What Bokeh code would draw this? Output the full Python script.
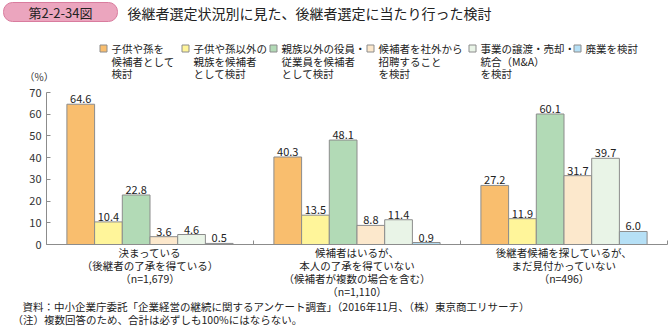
from bokeh.plotting import figure
from bokeh.layouts import column, row
from bokeh.models import ColumnDataSource, FixedTicker, Range1d, LinearAxis
from bokeh.transform import dodge
from bokeh.core.properties import value
from bokeh.embed import file_html
from bokeh.resources import INLINE

# ---------------- data ----------------
group_labels = [
    ["決まっている", "（後継者の了承を得ている）", "（n=1,679）"],
    ["候補者はいるが、", "本人の了承を得ていない", "（候補者が複数の場合を含む）", "（n=1,110）"],
    ["後継者候補を探しているが、", "まだ見付かっていない", "（n=496）"],
]
series_names = [
    ["子供や孫を", "候補者として", "検討"],
    ["子供や孫以外の", "親族を候補者", "として検討"],
    ["親族以外の役員・", "従業員を候補者", "として検討"],
    ["候補者を社外から", "招聘すること", "を検討"],
    ["事業の譲渡・売却・", "統合（M&A）", "を検討"],
    ["廃業を検討"],
]
child_grandchild = [64.6, 40.3, 27.2]
other_relatives = [10.4, 13.5, 11.9]
employees = [22.8, 48.1, 60.1]
outside_hire = [3.6, 8.8, 31.7]
mna = [4.6, 11.4, 39.7]
closure = [0.5, 0.9, 6.0]
y_ticks = [0, 10, 20, 30, 40, 50, 60, 70]
figure_no = "第2-2-34図"
title = "後継者選定状況別に見た、後継者選定に当たり行った検討"
unit = "（%）"
notes = [
    "資料：中小企業庁委託「企業経営の継続に関するアンケート調査」（2016年11月、（株）東京商工リサーチ）",
    "（注）複数回答のため、合計は必ずしも100%にはならない。",
]

series_values = [child_grandchild, other_relatives, employees, outside_hire, mna, closure]
colors = ["#F9BE6E", "#FFF59A", "#B2DAB6", "#FCE8CC", "#E9F4E7", "#B6E0F6"]
FONT = "Noto Sans CJK JP"
TXT = "#222222"
GRAY = "#8C8C8C"

W = 669
LEFT, RIGHT = 46, 2
FRAME_W, FRAME_H = W - LEFT - RIGHT, 152
UNIT = FRAME_W / 3.0          # pixels per category
H_TOP = 83
H_BOT = 31
OVERLAP = 6


def blank(h, xr):
    f = figure(width=W, height=h, x_range=xr, y_range=Range1d(h, 0),
               x_axis_type=None, y_axis_type=None, output_backend="svg",
               toolbar_location=None, min_border=0)
    f.outline_line_color = None
    f.xgrid.visible = False
    f.ygrid.visible = False
    return f


def no_align(f):
    try:
        f.frame_align = False
    except Exception:
        pass


# ---------------- top: header + legend ----------------
top = blank(H_TOP, Range1d(0, W))
top.quad(left=[3], right=[117], top=[2], bottom=[21], fill_color="#EBA5BE",
         line_color="#D97C9E", line_width=1, border_radius=9)
top.text(x=[60], y=[12], text=[figure_no], text_align="center", text_baseline="middle",
         text_font=value(FONT), text_font_size="13px", text_color=TXT)
top.text(x=[127], y=[12], text=[title], text_align="left", text_baseline="middle",
         text_font=value(FONT), text_font_size="14px", text_color=TXT)

marker_x = [103, 185, 273, 370, 472, 577]
LEG_Y, LEG_DY = 48, 12.5
top.rect(x=marker_x, y=LEG_Y, width=7, height=7, fill_color=colors, line_color=GRAY,
         line_width=1)
lx, ly, lt = [], [], []
for k, lines in enumerate(series_names):
    for j, s in enumerate(lines):
        lx.append(marker_x[k] + 8)
        ly.append(LEG_Y + j * LEG_DY)
        lt.append(s)
top.text(x=lx, y=ly, text=lt, text_align="left", text_baseline="middle",
         text_font=value(FONT), text_font_size="10.5px", text_color=TXT)
top.text(x=[24], y=[75.5], text=[unit], text_align="left", text_baseline="middle",
         text_font=value(FONT), text_font_size="10px", text_color="#333333")

# ---------------- main chart ----------------
p = figure(frame_width=FRAME_W, frame_height=FRAME_H, x_range=Range1d(0, 3),
           y_range=Range1d(0, 70), output_backend="svg", toolbar_location=None,
           min_border_left=LEFT, min_border_right=RIGHT,
           min_border_top=9, min_border_bottom=0)
p.outline_line_color = None
p.xgrid.visible = False
p.ygrid.visible = False

src = {"x": [i + 0.5 for i in range(len(group_labels))]}
for k, vals in enumerate(series_values):
    src[f"s{k}"] = vals
    src[f"t{k}"] = [f"{v:.1f}" for v in vals]
source = ColumnDataSource(src)

bar_w = 27.7 / UNIT
n = len(series_values)
for k in range(n):
    off = (k - (n - 1) / 2) * bar_w
    p.vbar(x=dodge("x", off, range=p.x_range), top=f"s{k}", width=bar_w,
           source=source, fill_color=colors[k], line_color=GRAY, line_width=1)
    p.text(x=dodge("x", off, range=p.x_range), y=f"s{k}", text=f"t{k}", source=source,
           text_align="center", text_baseline="bottom", y_offset=-1,
           text_font=value(FONT), text_font_size="11px", text_color=TXT)

p.yaxis.ticker = FixedTicker(ticks=y_ticks)
p.yaxis.major_tick_in = 4
p.yaxis.major_tick_out = 0
p.yaxis.minor_tick_line_color = None
p.yaxis.axis_line_color = GRAY
p.yaxis.major_tick_line_color = GRAY
p.yaxis.major_label_text_font = FONT
p.yaxis.major_label_text_font_size = "11px"
p.yaxis.major_label_text_color = "#333333"
p.yaxis.major_label_standoff = 5

p.xaxis.ticker = FixedTicker(ticks=[0, 1, 2, 3])
p.xaxis.major_tick_in = 4
p.xaxis.major_tick_out = 0
p.xaxis.minor_tick_line_color = None
p.xaxis.axis_line_color = GRAY
p.xaxis.major_tick_line_color = GRAY
p.xaxis.major_label_text_font_size = "0px"
p.xaxis.major_label_text_color = None
p.xaxis.major_label_standoff = 0

cat_axis = LinearAxis(
    ticker=FixedTicker(ticks=[i + 0.5 for i in range(len(group_labels))]),
    major_label_overrides={i + 0.5: "\n".join(lines) for i, lines in enumerate(group_labels)},
)
cat_axis.axis_line_color = None
cat_axis.major_tick_line_color = None
cat_axis.minor_tick_line_color = None
cat_axis.major_tick_in = 0
cat_axis.major_tick_out = 0
cat_axis.major_label_standoff = 0
cat_axis.major_label_text_font = FONT
cat_axis.major_label_text_font_size = "10.5px"
cat_axis.major_label_text_color = TXT
cat_axis.major_label_text_line_height = 0.87
p.add_layout(cat_axis, "below")

# ---------------- bottom: notes (transparent, slightly overlapping) ----------------
bot = blank(H_BOT, Range1d(0, W))
bot.background_fill_color = None
bot.border_fill_color = None
bot.text(x=[22, 12], y=[11, 24], text=notes, text_align="left", text_baseline="middle",
         text_font=value(FONT), text_font_size="10.5px", text_color=TXT)

for f in (top, p, bot):
    no_align(f)

layout = column(row(top), row(p), row(bot, margin=(-OVERLAP, 0, 0, 0)), spacing=0)
open("out.html", "w").write(file_html(layout, INLINE))
